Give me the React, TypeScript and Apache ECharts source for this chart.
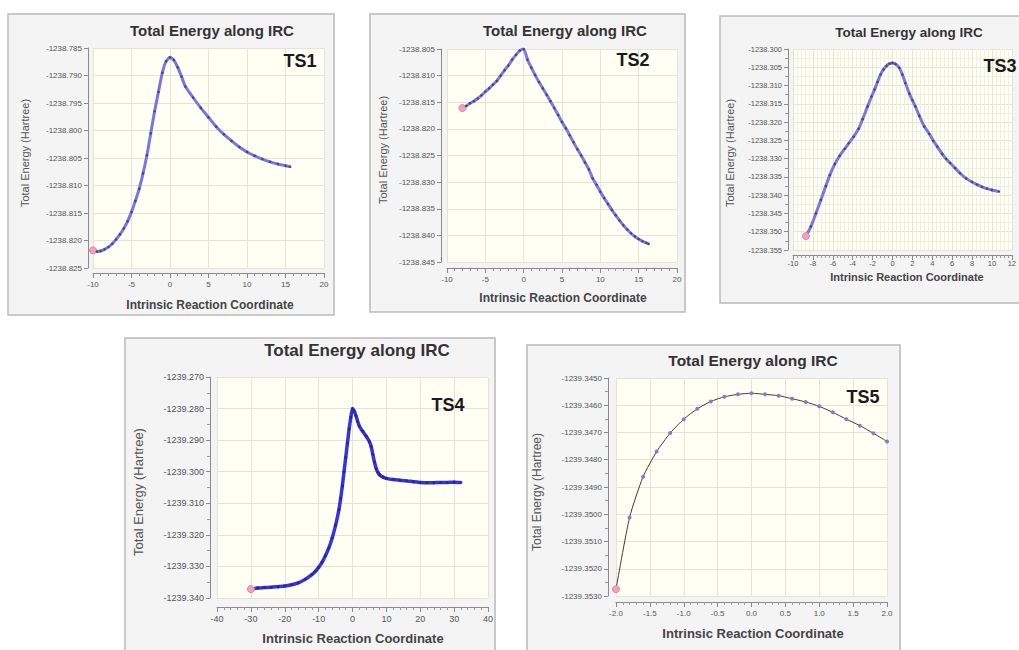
import React, { useEffect, useRef } from "react";
import * as echarts from "echarts";

// ---------- DATA ----------
const TS1_X = [-10, -9.5, -9, -8.5, -8, -7.5, -7, -6.5, -6, -5.5, -5, -4.5, -4, -3.5, -3, -2.5, -2, -1.5, -1, -0.5, 0, 0.5, 1, 1.5, 2, 3, 4, 5, 6, 7, 8, 9, 10, 11, 12, 13, 14, 15, 15.6];
const TS1_E = [-1238.8218, -1238.822, -1238.8219, -1238.8216, -1238.8212, -1238.8206, -1238.8198, -1238.8189, -1238.8178, -1238.8165, -1238.8148, -1238.8128, -1238.8106, -1238.8078, -1238.8045, -1238.8005, -1238.7965, -1238.793, -1238.7895, -1238.7874, -1238.7867, -1238.7872, -1238.7885, -1238.7902, -1238.792, -1238.794, -1238.7959, -1238.7976, -1238.7993, -1238.8007, -1238.8019, -1238.803, -1238.8039, -1238.8046, -1238.8052, -1238.8057, -1238.8061, -1238.8064, -1238.8066];

const TS2_X = [-8, -7.5, -7, -6.5, -6, -5.5, -5, -4.5, -4, -3.5, -3, -2.5, -2, -1.5, -1, -0.5, 0, 0.5, 1, 1.5, 2, 2.5, 3, 3.5, 4, 4.5, 5, 5.5, 6, 6.5, 7, 7.5, 8, 8.5, 9, 9.5, 10, 10.5, 11, 11.5, 12, 12.5, 13, 13.5, 14, 14.5, 15, 15.5, 16, 16.3];
const TS2_E = [-1238.8161, -1238.8157, -1238.8152, -1238.8148, -1238.8143, -1238.8137, -1238.813, -1238.8124, -1238.8117, -1238.811, -1238.81, -1238.809, -1238.8081, -1238.807, -1238.8061, -1238.8053, -1238.805, -1238.807, -1238.8085, -1238.8099, -1238.8112, -1238.8124, -1238.8136, -1238.8148, -1238.8161, -1238.8174, -1238.8187, -1238.8199, -1238.8212, -1238.8225, -1238.8238, -1238.825, -1238.8263, -1238.8276, -1238.8293, -1238.8305, -1238.8318, -1238.833, -1238.8341, -1238.8352, -1238.8362, -1238.8372, -1238.8381, -1238.8389, -1238.8396, -1238.8402, -1238.8407, -1238.8411, -1238.8414, -1238.8416];

const TS3_X = [-8.7, -8.2, -7.7, -7.2, -6.7, -6.3, -5.8, -5.3, -4.8, -4.4, -3.9, -3.4, -3.0, -2.5, -2.1, -1.8, -1.5, -1.2, -0.9, -0.6, -0.3, 0.0, 0.3, 0.7, 1.0, 1.3, 1.7, 2.0, 2.3, 2.7, 3.2, 3.7, 4.1, 4.5, 5.0, 5.4, 5.8, 6.3, 6.8, 7.4, 8.0, 8.5, 9.0, 9.5, 10.0, 10.7];
const TS3_E = [-1238.3512, -1238.3486, -1238.345, -1238.3413, -1238.3375, -1238.3345, -1238.3315, -1238.3292, -1238.3273, -1238.3258, -1238.324, -1238.3218, -1238.3192, -1238.3157, -1238.313, -1238.3111, -1238.309, -1238.307, -1238.3056, -1238.3046, -1238.304, -1238.3038, -1238.3041, -1238.3052, -1238.307, -1238.3093, -1238.3122, -1238.314, -1238.3157, -1238.3183, -1238.3212, -1238.3232, -1238.3251, -1238.3267, -1238.3287, -1238.3301, -1238.3312, -1238.3326, -1238.334, -1238.3354, -1238.3364, -1238.3371, -1238.3377, -1238.3382, -1238.3386, -1238.339];

const TS4_X = [-30, -28, -26, -24, -22, -20, -18, -16, -14, -12, -11, -10, -9, -8, -7, -6, -5, -4, -3.5, -3, -2.5, -2, -1.5, -1, -0.5, 0, 0.5, 1, 1.5, 2, 3, 4, 5, 5.5, 6, 6.5, 7, 7.5, 8, 9, 10, 12, 14, 16, 18, 20, 22, 24, 26, 28, 30, 32];
const TS4_E = [-1239.3372, -1239.3368, -1239.3367, -1239.3366, -1239.3364, -1239.3362, -1239.3358, -1239.3352, -1239.3341, -1239.3326, -1239.3316, -1239.3303, -1239.3287, -1239.3266, -1239.3242, -1239.321, -1239.317, -1239.312, -1239.3085, -1239.3045, -1239.3, -1239.2955, -1239.291, -1239.2865, -1239.2828, -1239.28, -1239.2808, -1239.2822, -1239.284, -1239.2855, -1239.2872, -1239.2887, -1239.2905, -1239.292, -1239.2945, -1239.297, -1239.299, -1239.3002, -1239.301, -1239.3017, -1239.3021, -1239.3025, -1239.3027, -1239.3029, -1239.3032, -1239.3034, -1239.3035, -1239.3035, -1239.3034, -1239.3034, -1239.3033, -1239.3034];

const TS5_X = [-2.0, -1.8, -1.6, -1.4, -1.2, -1.0, -0.8, -0.6, -0.4, -0.2, 0.0, 0.2, 0.4, 0.6, 0.8, 1.0, 1.2, 1.4, 1.6, 1.8, 2.0];
const TS5_E = [-1239.35275, -1239.35012, -1239.34862, -1239.3477, -1239.34702, -1239.34651, -1239.34613, -1239.34586, -1239.34569, -1239.3456, -1239.34556, -1239.3456, -1239.34565, -1239.34576, -1239.34588, -1239.34604, -1239.34626, -1239.34651, -1239.34675, -1239.34703, -1239.34733];

const PANEL_NAMES = ["TS1", "TS2", "TS3", "TS4", "TS5"];
const CHART_TITLE = "Total Energy along IRC";
const X_NAME = "Intrinsic Reaction Coordinate";
const Y_NAME = "Total Energy (Hartree)";

// axis ranges (min, max, interval) per panel
const X_RANGES = [[-10, 20, 5], [-10, 20, 5], [-10, 12, 2], [-40, 40, 10], [-2, 2, 0.5]];
const Y_RANGES = [[-1238.825, -1238.785, 0.005], [-1238.845, -1238.805, 0.005], [-1238.355, -1238.3, 0.005], [-1239.34, -1239.27, 0.01], [-1239.353, -1239.345, 0.001]];
const Y_DECIMALS = [3, 3, 3, 3, 4];

const SERIES_X = [TS1_X, TS2_X, TS3_X, TS4_X, TS5_X];
const SERIES_E = [TS1_E, TS2_E, TS3_E, TS4_E, TS5_E];

// ---------- LAYOUT ----------
const LAYOUT = [
  { frame: [8, 14, 326, 301], grid: [93, 48, 231, 220], yOff: 5, xOff: 5, xMargin: 7, title: [212, 30, 15], xName: [210, 305, 12], yName: [25, 153, 11], ts: [300, 61], tick: 8, xMinor: 5, yMinor: 0 },
  { frame: [370, 14, 315, 298], grid: [447, 49, 230, 213], yOff: 6, xOff: 6, xMargin: 7, title: [565, 30, 15], xName: [563, 298, 12], yName: [383, 150, 11], ts: [633, 60], tick: 8, xMinor: 5, yMinor: 0 },
  { frame: [720, 16, 310, 287], grid: [793, 49, 229, 201], yOff: 5, xOff: 5, xMargin: 4, title: [909, 32, 13.5], xName: [907, 277, 11], yName: [730, 153, 11], ts: [1000, 66], tick: 7.5, xMinor: 5, yMinor: 2 },
  { frame: [125, 338, 370, 330], grid: [217, 377, 271, 221], yOff: 7, xOff: 9, xMargin: 7, title: [357, 350, 17], xName: [353, 638, 13], yName: [138, 492, 13], ts: [448, 405], tick: 9, xMinor: 5, yMinor: 2 },
  { frame: [527, 345, 373, 320], grid: [616, 378, 271, 218], yOff: 8, xOff: 6, xMargin: 7, title: [753, 360, 15.5], xName: [753, 633, 13], yName: [537, 492, 12], ts: [863, 397], tick: 8, xMinor: 5, yMinor: 2 },
];

const SERIES_STYLE = [
  { line: "#7676e4", width: 3, dot: "#44447a", size: 2.5 },
  { line: "#7a7ae2", width: 3, dot: "#44447a", size: 2.5 },
  { line: "#7878e0", width: 3, dot: "#44447a", size: 2.5 },
  { line: "#3434e6", width: 3.5, dot: "#2a2a80", size: 3 },
  { line: "#3c3c3c", width: 1, dot: "#7d7dd6", size: 4 },
];

const FONT = '"Liberation Sans", Arial, sans-serif';

export default function App() {
  const ref = useRef<HTMLDivElement>(null);

  useEffect(() => {
    if (!ref.current) return;
    const chart = echarts.init(ref.current, undefined, { renderer: "svg" });

    const grids: any[] = [];
    const xAxes: any[] = [];
    const yAxes: any[] = [];
    const series: any[] = [];
    const graphics: any[] = [];

    LAYOUT.forEach((L, i) => {
      const [gl, gt, gw, gh] = L.grid;
      grids.push({ left: gl, top: gt, width: gw, height: gh, show: true, backgroundColor: "#fffff3", borderWidth: 0 });
      const [xmin, xmax, xint] = X_RANGES[i];
      const [ymin, ymax, yint] = Y_RANGES[i];
      xAxes.push({
        type: "value", gridIndex: i, min: xmin, max: xmax, interval: xint, offset: L.xOff,
        axisLine: { show: true, onZero: false, lineStyle: { color: "#8a8a8a", width: 1 } },
        axisTick: { show: true, length: 5, lineStyle: { color: "#8a8a8a" } },
        minorTick: { show: true, splitNumber: L.xMinor, length: 3, lineStyle: { color: "#9a9a9a" } },
        axisLabel: { color: "#555", fontSize: L.tick, fontFamily: FONT, margin: L.xMargin,
          formatter: (v: number) => (xint < 1 ? v.toFixed(1) : String(Math.round(v))) },
        splitLine: { show: true, lineStyle: { color: "#e4e4d6", width: 1 } },
        minorSplitLine: { show: i === 2, lineStyle: { color: "#efefe4", width: 1 } },
      });
      yAxes.push({
        type: "value", gridIndex: i, min: ymin, max: ymax, interval: yint, offset: L.yOff,
        axisLine: { show: true, onZero: false, lineStyle: { color: "#8a8a8a", width: 1 } },
        axisTick: { show: true, length: 4, lineStyle: { color: "#8a8a8a" } },
        minorTick: { show: L.yMinor > 0, splitNumber: L.yMinor || 2, length: 3, lineStyle: { color: "#9a9a9a" } },
        axisLabel: { color: "#555", fontSize: L.tick, fontFamily: FONT, margin: 6,
          formatter: (v: number) => v.toFixed(Y_DECIMALS[i]) },
        splitLine: { show: true, lineStyle: { color: "#e4e4d6", width: 1 } },
        minorSplitLine: { show: i === 2, lineStyle: { color: "#efefe4", width: 1 } },
      });
      const st = SERIES_STYLE[i];
      const data = SERIES_X[i].map((x, k) => {
        const item: any = { value: [x, SERIES_E[i][k]] };
        if (k === 0) {
          item.symbolSize = 7;
          item.itemStyle = { color: "#f2a2bb", borderColor: "#d98aa6", borderWidth: 1 };
        }
        return item;
      });
      series.push({
        type: "line", xAxisIndex: i, yAxisIndex: i, data, smooth: 0.2,
        symbol: "circle", symbolSize: st.size, showSymbol: true,
        lineStyle: { color: st.line, width: st.width },
        itemStyle: { color: st.dot },
        z: 3,
      });

      const [fx, fy, fw, fh] = L.frame;
      graphics.push({
        type: "rect", z: -5, shape: { x: fx, y: fy, width: fw, height: fh },
        style: { fill: "#f4f4f4", stroke: "#b9b9b9", lineWidth: 1.5 },
      });
      graphics.push({
        type: "text", z: 50, x: L.title[0], y: L.title[1],
        style: { text: CHART_TITLE, font: `bold ${L.title[2]}px ${FONT}`, fill: "#333", align: "center", verticalAlign: "middle", textAlign: "center", textVerticalAlign: "middle" },
      });
      graphics.push({
        type: "text", z: 50, x: L.xName[0], y: L.xName[1],
        style: { text: X_NAME, font: `bold ${L.xName[2]}px ${FONT}`, fill: "#444", align: "center", verticalAlign: "middle", textAlign: "center", textVerticalAlign: "middle" },
      });
      graphics.push({
        type: "text", z: 50, x: L.yName[0], y: L.yName[1], rotation: Math.PI / 2,
        style: { text: Y_NAME, font: `${L.yName[2]}px ${FONT}`, fill: "#555", align: "center", verticalAlign: "middle", textAlign: "center", textVerticalAlign: "middle" },
      });
      graphics.push({
        type: "text", z: 50, x: L.ts[0], y: L.ts[1],
        style: { text: PANEL_NAMES[i], font: `bold 18px ${FONT}`, fill: "#1a1a1a", align: "center", verticalAlign: "middle", textAlign: "center", textVerticalAlign: "middle" },
      });
    });

    chart.setOption({
      animation: false,
      backgroundColor: "#ffffff",
      grid: grids,
      xAxis: xAxes,
      yAxis: yAxes,
      series,
      graphic: { elements: graphics },
    });

    return () => chart.dispose();
  }, []);

  return (
    <div
      ref={ref}
      style={{ position: "fixed", left: 0, top: 0, width: 1019, height: 650 }}
    />
  );
}
